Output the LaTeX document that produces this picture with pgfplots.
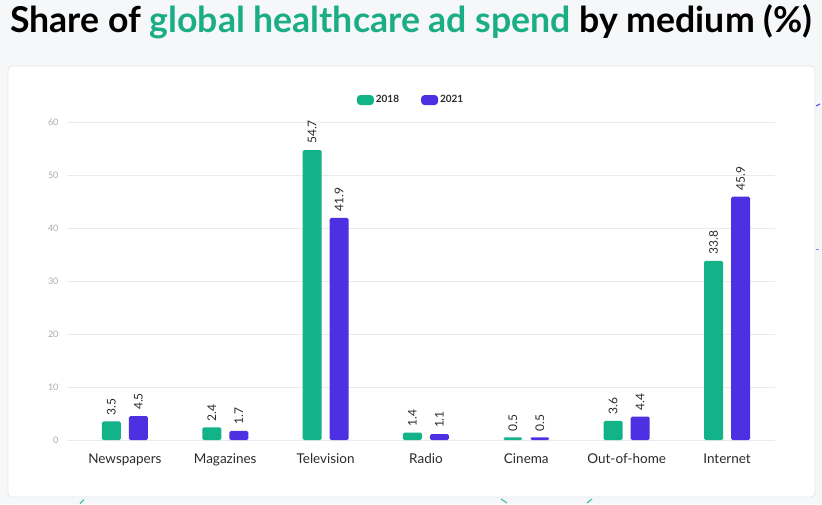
\documentclass[border=0pt]{standalone}
\usepackage{pgfplots}
\pgfplotsset{compat=1.18}
\usepackage{fontspec}
\setmainfont{Lato}
\definecolor{bggray}{HTML}{F6F7F9}
\definecolor{cardborder}{HTML}{E4E6EA}
\definecolor{mgreen}{HTML}{12B388}
\definecolor{tgreen}{HTML}{1BAE86}
\definecolor{mpurple}{HTML}{4C30E2}
\definecolor{gridgray}{HTML}{E9EAEC}
\definecolor{tickgray}{HTML}{ABABAB}
\definecolor{labeldark}{HTML}{2B2B2B}
\begin{document}
\begin{tikzpicture}[x=1pt,y=1pt]
\fill[bggray] (0,0) rectangle (822,504);
\fill[white,draw=cardborder,line width=0.8pt,rounded corners=4pt] (8,7) rectangle (815,438);
% small decorative fragments peeking out behind the card
\draw[mgreen!80,line width=1.2pt] (80,0.5) -- (84,4.5);
\draw[mgreen!80,line width=1.2pt] (501,5) -- (507,1);
\draw[mgreen!80,line width=1.2pt] (587,1) -- (592,5);
\draw[mpurple!80,line width=1.2pt] (816,398) -- (820,400);
\draw[mpurple!60,line width=1pt] (816,254) -- (819,254);
\node[anchor=west,inner sep=0pt] at (10,482) {\resizebox{802pt}{!}{\bfseries Share of \textcolor{tgreen}{global healthcare ad spend} by medium (\%)}};
\begin{axis}[
  /pgf/number format/assume math mode=true,
  at={(67pt,64pt)}, anchor=south west,
  scale only axis, width=708pt, height=318pt,
  ymin=0, ymax=60, xmin=-0.577, xmax=6.478,
  ytick={0,10,...,60},
  xtick={0,...,6},
  xticklabels={Newspapers,Magazines,Television,Radio,Cinema,Out-of-home,Internet},
  axis line style={draw=none},
  tick style={draw=none},
  ymajorgrids, grid style={color=gridgray,line width=0.7pt},
  yticklabel style={font=\fontsize{9}{10}\selectfont, text=tickgray, xshift=-5pt},
  xticklabel style={font=\fontsize{13.5}{14}\selectfont, text=labeldark, yshift=-6pt},
  ybar=8pt, bar width=19pt,
  nodes near coords,
  nodes near coords style={/pgf/number format/fixed, /pgf/number format/precision=1},
  every node near coord/.append style={rotate=90, anchor=west, inner xsep=6pt, font=\fontsize{12}{13}\selectfont, text=labeldark},
  legend columns=2,
  legend style={at={(0.486,1.069)}, anchor=center, draw=none, fill=none,
    font=\fontsize{10}{11}\selectfont\bfseries, text=labeldark,
    /tikz/every even column/.append style={column sep=20pt}},
  legend image code/.code={\fill[#1,rounded corners=3.5pt] (0pt,-5pt) rectangle (17pt,5pt);},
]
\addplot[fill=mgreen, draw=none, rounded corners=1.5pt] coordinates {(0,3.5) (1,2.4) (2,54.7) (3,1.4) (4,0.5) (5,3.6) (6,33.8)};
\addplot[fill=mpurple, draw=none, rounded corners=1.5pt] coordinates {(0,4.5) (1,1.7) (2,41.9) (3,1.1) (4,0.5) (5,4.4) (6,45.9)};
\legend{2018,2021}
\end{axis}
\end{tikzpicture}
\end{document}
